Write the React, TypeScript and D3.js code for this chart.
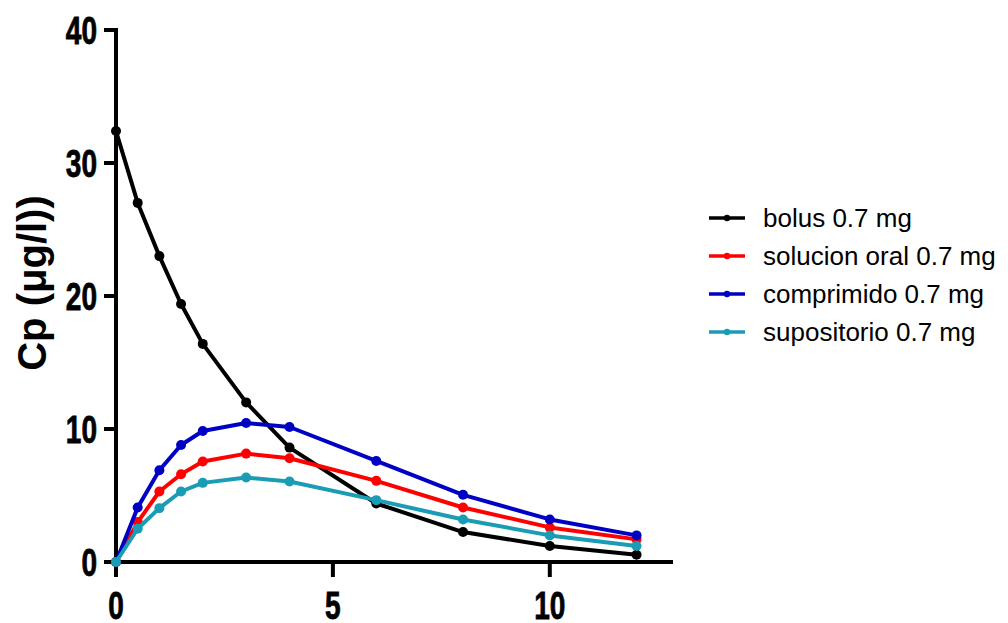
import React from "react";
import * as d3 from "d3";

const times = [0, 0.5, 1, 1.5, 2, 3, 4, 6, 8, 10, 12];
const bolus = [32.4, 27.0, 23.0, 19.4, 16.4, 12.0, 8.6, 4.4, 2.25, 1.2, 0.55];
const solucion = [0, 3.0, 5.3, 6.6, 7.55, 8.15, 7.8, 6.1, 4.1, 2.6, 1.7];
const comprimido = [0, 4.1, 6.9, 8.8, 9.85, 10.45, 10.15, 7.6, 5.05, 3.2, 2.0];
const supositorio = [0, 2.5, 4.05, 5.3, 5.95, 6.35, 6.05, 4.65, 3.2, 2.0, 1.2];

const seriesNames = ["bolus 0.7 mg", "solucion oral 0.7 mg", "comprimido 0.7 mg", "supositorio 0.7 mg"];
const seriesColors = ["#000000", "#ff0000", "#0000c4", "#1a9db4"];
const seriesValues = [bolus, solucion, comprimido, supositorio];

const xTicks = [0, 5, 10];
const yTicks = [0, 10, 20, 30, 40];

export default function App() {
  const x = d3.scaleLinear().domain([0, 12.84]).range([116, 673]);
  const y = d3.scaleLinear().domain([0, 40]).range([562, 30]);
  const line = d3
    .line<number>()
    .x((_, i) => x(times[i]))
    .y((d) => y(d));

  const tickFont = "'Liberation Sans', Arial, sans-serif";

  return (
    <svg
      width={1008}
      height={623}
      style={{ position: "absolute", left: 0, top: 0, background: "#fff" }}
    >
      {/* axes */}
      <line x1={x(0)} x2={x(0)} y1={y(40)} y2={y(0)} stroke="#000" strokeWidth={4} strokeLinecap="square" />
      <line x1={x(0)} x2={673} y1={y(0)} y2={y(0)} stroke="#000" strokeWidth={4} />
      {yTicks.map((t) => (
        <g key={"y" + t}>
          <line x1={x(0) - 12} x2={x(0)} y1={y(t)} y2={y(t)} stroke="#000" strokeWidth={4} />
          <text
            transform={`translate(${x(0) - 19},${y(t) + 14}) scale(0.72,1)`}
            textAnchor="end"
            fontFamily={tickFont}
            fontWeight="bold"
            fontSize={39}
            stroke="#000"
            strokeWidth={0.8}
          >
            {t}
          </text>
        </g>
      ))}
      {xTicks.map((t) => (
        <g key={"x" + t}>
          <line x1={x(t)} x2={x(t)} y1={y(0)} y2={y(0) + 15} stroke="#000" strokeWidth={4} />
          <text
            transform={`translate(${x(t)},${y(0) + 57}) scale(0.72,1)`}
            textAnchor="middle"
            fontFamily={tickFont}
            fontWeight="bold"
            fontSize={39}
            stroke="#000"
            strokeWidth={0.8}
          >
            {t}
          </text>
        </g>
      ))}
      <text
        transform="translate(46,283) rotate(-90)"
        textAnchor="middle"
        fontFamily={tickFont}
        fontWeight="bold"
        fontSize={40}
      >
        Cp (μg/l))
      </text>

      {/* series */}
      {seriesValues.map((vals, si) => (
        <g key={"s" + si}>
          <path d={line(vals) || ""} fill="none" stroke={seriesColors[si]} strokeWidth={4} strokeLinejoin="round" />
          {vals.map((v, i) => (
            <circle key={i} cx={x(times[i])} cy={y(v)} r={5} fill={seriesColors[si]} />
          ))}
        </g>
      ))}

      {/* legend */}
      {seriesNames.map((name, i) => {
        const ly = 218 + i * 38;
        return (
          <g key={"l" + i}>
            <line x1={709} x2={745} y1={ly} y2={ly} stroke={seriesColors[i]} strokeWidth={3.5} />
            <circle cx={727} cy={ly} r={3.2} fill={seriesColors[i]} />
            <text x={763} y={ly + 9} fontFamily={tickFont} fontSize={26} fill="#000">
              {name}
            </text>
          </g>
        );
      })}
    </svg>
  );
}
